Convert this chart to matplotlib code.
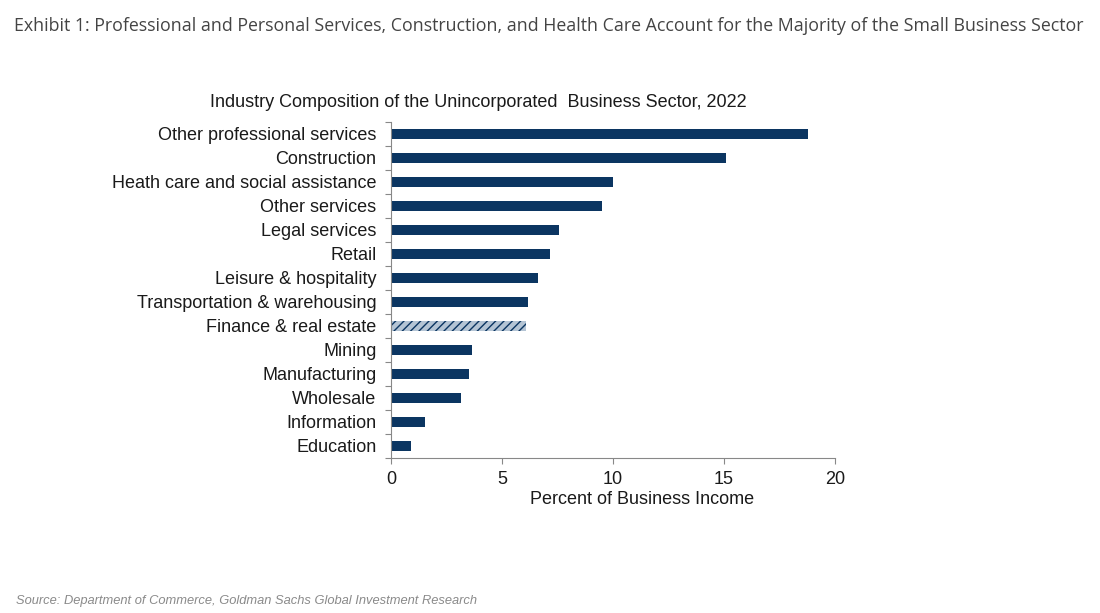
import matplotlib
matplotlib.use("Agg")
import matplotlib.pyplot as plt
import numpy as np
from matplotlib.ticker import FixedLocator

categories = ["Other professional services", "Construction", "Heath care and social assistance",
              "Other services", "Legal services", "Retail", "Leisure & hospitality",
              "Transportation & warehousing", "Finance & real estate", "Mining",
              "Manufacturing", "Wholesale", "Information", "Education"]
values = [18.8, 15.1, 10.0, 9.5, 7.55, 7.15, 6.6, 6.15, 6.1, 3.65, 3.5, 3.15, 1.55, 0.9]
hatched = ["Finance & real estate"]
xticks = [0, 5, 10, 15, 20]

navy = "#0b3561"
fs = 13
fig = plt.figure(figsize=(11, 6.13), dpi=100)
ax = fig.add_axes([0.3555, 0.2529, 0.4036, 0.5481])

y = np.arange(len(categories))
for yi, cat, v in zip(y, categories, values):
    if cat in hatched:
        ax.barh(yi, v, height=0.42, color="#b4c4d4", edgecolor=navy, hatch="////", linewidth=0)
    else:
        ax.barh(yi, v, height=0.42, color=navy, linewidth=0)

ax.set_ylim(len(categories) - 0.5, -0.5)
ax.set_xlim(0, 20)
ax.set_yticks(y)
ax.set_yticklabels(categories, fontsize=fs, family="Liberation Sans", color="#1a1a1a")
ax.tick_params(axis="y", length=0, pad=10.5)
ax.yaxis.set_minor_locator(FixedLocator(np.arange(-0.5, len(categories), 1)))
ax.tick_params(axis="y", which="minor", length=4, color="#888888", width=0.8)
ax.set_xticks(xticks)
ax.set_xticklabels([str(t) for t in xticks], fontsize=fs, family="Liberation Sans", color="#1a1a1a")
ax.tick_params(axis="x", length=4, color="#888888", width=0.8, pad=5.5)
ax.set_xlabel("Percent of Business Income", fontsize=fs, family="Liberation Sans", color="#1a1a1a")
ax.xaxis.set_label_coords(0.565, -0.097)
for s in ["top", "right"]:
    ax.spines[s].set_visible(False)
for s in ["left", "bottom"]:
    ax.spines[s].set_color("#888888")
    ax.spines[s].set_linewidth(0.8)

fig.text(0.4345, 0.833, "Industry Composition of the Unincorporated  Business Sector, 2022",
         ha="center", va="center", fontsize=fs, family="Liberation Sans", color="#1a1a1a")
fig.text(0.0127, 0.957, "Exhibit 1: Professional and Personal Services, Construction, and Health Care Account for the Majority of the Small Business Sector",
         ha="left", va="center", fontsize=12.8, family="Open Sans", color="#444444")
fig.text(0.0145, 0.019, "Source: Department of Commerce, Goldman Sachs Global Investment Research",
         ha="left", va="center", fontsize=9.3, family="Liberation Sans", style="italic", color="#8a8a8a")

fig.savefig("out.png", dpi=100)
